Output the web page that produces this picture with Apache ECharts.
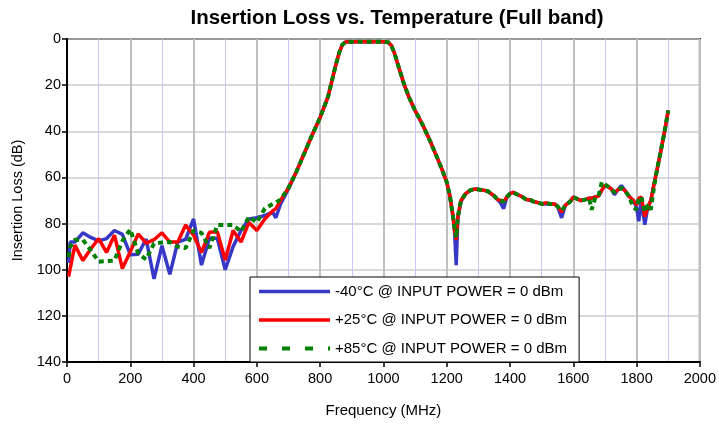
<!DOCTYPE html>
<html>
<head>
<meta charset="utf-8">
<script src="https://cdn.jsdelivr.net/npm/echarts@6/dist/echarts.min.js"></script>
<style>
html,body{margin:0;padding:0;background:#fff;}
#chart{width:719px;height:426px;}
</style>
</head>
<body>
<div id="chart"></div>
<script>
// ---- data ----
var seriesNames = ['-40°C @ INPUT POWER = 0 dBm', '+25°C @ INPUT POWER = 0 dBm', '+85°C @ INPUT POWER = 0 dBm'];

var freqLow = [5,10,25,50,75,100,125,150,175,200,225,250,275,300,325,350,375,400,425,450,475,500,525,550,575,600,625,650,660,675,700];
var blueLow = [97,88,88,84,86,87.5,86.5,83,84.7,93.5,93.3,86.7,104,89.6,102,88,86.8,78,98,86.4,86.4,100,90,83,78,77.5,76.5,75,77.5,71.5,65];
var redLow = [103,103,89.3,96,91,86.5,92.5,85,99.5,92.2,84.5,88.5,87,84,88,88,80.6,85,92.5,83.8,83.5,95.8,83,88,79.5,83,78,74.5,73.5,70,64.5];
var greenLow = [94.5,90,87,87,91.5,96.5,96.3,96,87.5,82.5,93,95.5,88.6,88.2,88,90,90.6,83,84,90.6,80.6,80.6,80.6,83.5,77,79.5,73.5,71.5,71,69.5,64.5];

var freqBand = [725,750,775,800,825,840,850,860,870,880,
  900,950,1000,1015,1025,1035,1050,1065,1080,1100,
  1125,1150,1170,1185,1200,1210,1220,1225,1230,1235,
  1245,1260,1275,1290,1300,1315,1330,1340,1350,1360,
  1370,1380,1390,1400,1410,1425,1440,1450,1465,1475,
  1490,1500,1515,1525,1540,1550,1563,1575,1590,1600,
  1615,1625,1640,1650,1658,1670,1680,1690,1700,1710,
  1720,1730,1740,1752,1765,1775,1790,1800,1807,1815,
  1826,1835,1845,1852,1862,1870,1878,1890,1900];
var redBand = [57.5,49.5,41.5,34,25,16.5,11,6,2.5,1.3,
  1.2,1.2,1.2,1.4,2.8,6.2,13,19.5,25,31,
  37.5,45,51.5,56.5,62,68,77,83,87,77,
  70,67,65.5,65,65.2,65.5,66,67,68,69.5,
  70,70.5,68.5,67,66.5,67.5,68.5,69.5,69.8,70.5,
  71,71.5,71,71.5,71.5,72.5,75,72,70.5,68.5,
  69.5,70,69.5,69,69,68.5,68,65.5,63.5,64,
  65,66.5,65.5,64.5,66,68,70,72,69,68.5,
  77,73,70,65,58.5,53,47.5,39,31];
var blueBand = [57.5,49.5,41.5,34,25,16.5,11,6,2.5,1.3,
  1.2,1.2,1.2,1.4,2.8,6.2,13,19.5,25,31,
  37.5,45,51.5,56.5,62,68,77,84,98,78,
  70.5,67,65.5,65,65.2,65.5,66,67,68,69.5,
  71,73.5,68.5,67,66.5,67.5,68.5,69.5,70,70.5,
  71,71.5,71.5,71.5,71.5,72.5,77.5,72,70.5,68.5,
  69.5,70,69.5,69,69,68.5,68,65.5,63.5,64,
  65,67.5,65.5,63.5,66,68,70,73,79,70,
  80.5,73,70,65,58.5,53,47.5,39,31];
var greenBand = [57.5,49.5,41.5,34,25,16.5,11,6,2.5,1.3,
  1.2,1.2,1.2,1.4,2.8,6.2,13,19.5,25,31,
  37.5,45,51.5,56.5,62,68,77,82,86,77,
  70,67,65.5,65,65.2,65.5,66,67,68,69.5,
  70,70.5,68.5,67,66.5,67.5,68.5,69.5,69.8,70.5,
  71,71.5,71,71.5,71.5,72.5,74.5,72,70.5,68.5,
  69.5,70,69.5,69,74,68.5,68,62,63,64,
  65,66.5,65.5,64.5,66,68,73,74,69,68.5,
  75,72,74,67,58.5,53,47.5,39,31];

var xTicks = {min: 0, max: 2000, interval: 200};
var yTicks = {min: 0, max: 140, interval: 20};

function pairs(fa, va, fb, vb) {
  var out = [];
  for (var i = 0; i < fa.length; i++) out.push([fa[i], va[i]]);
  for (var j = 0; j < fb.length; j++) out.push([fb[j], vb[j]]);
  return out;
}

var FONT = '"Liberation Sans", Arial, sans-serif';
var chart = echarts.init(document.getElementById('chart'), null, {renderer: 'canvas'});
chart.setOption({
  animation: false,
  backgroundColor: '#fff',
  title: {
    text: 'Insertion Loss vs. Temperature (Full band)',
    left: 392, top: 3, textAlign: 'center',
    textStyle: {fontFamily: FONT, fontSize: 20.5, fontWeight: 'bold', color: '#000'}
  },
  grid: {left: 67, right: 17, top: 39, bottom: 64, show: true, borderColor: '#000', borderWidth: 2, backgroundColor: 'transparent'},
  legend: {
    orient: 'vertical', left: 250, top: 277,
    padding: [7, 12, 6, 7],
    itemWidth: 71, itemHeight: 14, itemGap: 13.5,
    backgroundColor: '#fff', borderColor: '#000', borderWidth: 1,
    itemStyle: {opacity: 0},
    textStyle: {fontFamily: FONT, fontSize: 15, color: '#000', lineHeight: 15},
    data: [
      {name: seriesNames[0], lineStyle: {width: 3.5}},
      {name: seriesNames[1], lineStyle: {width: 3.5}},
      {name: seriesNames[2], lineStyle: {width: 4, type: [8, 15]}}
    ]
  },
  xAxis: {
    type: 'value', min: xTicks.min, max: xTicks.max, interval: xTicks.interval,
    name: 'Frequency (MHz)', nameLocation: 'middle', nameGap: 41,
    nameTextStyle: {fontFamily: FONT, fontSize: 15, color: '#000'},
    axisLine: {show: true, onZero: false, lineStyle: {color: '#000', width: 2}},
    axisTick: {show: true, inside: false, length: 5, lineStyle: {color: '#000', width: 1.5}},
    axisLabel: {fontFamily: FONT, fontSize: 14.5, color: '#000', margin: 9, formatter: function (v) { return String(v); }},
    splitLine: {show: true, lineStyle: {color: '#c0c0c0', width: 2}},
    minorTick: {show: true, splitNumber: 2, length: 0},
    minorSplitLine: {show: true, lineStyle: {color: '#c8c8ff', width: 1}}
  },
  yAxis: {
    type: 'value', inverse: true, min: yTicks.min, max: yTicks.max, interval: yTicks.interval,
    name: 'Insertion Loss (dB)', nameLocation: 'middle', nameGap: 42,
    nameTextStyle: {fontFamily: FONT, fontSize: 14.5, color: '#000'},
    axisLine: {show: true, onZero: false, lineStyle: {color: '#000', width: 2}},
    axisTick: {show: true, inside: false, length: 5, lineStyle: {color: '#000', width: 1.5}},
    axisLabel: {fontFamily: FONT, fontSize: 14.5, color: '#000', margin: 6, formatter: function (v) { return String(v); }},
    splitLine: {show: true, lineStyle: {color: '#cccccc', width: 1.5}}
  },
  series: [
    {name: seriesNames[0], type: 'line', symbol: 'none', data: pairs(freqLow, blueLow, freqBand, blueBand),
     lineStyle: {color: '#3838c8', width: 3.5}, itemStyle: {color: '#3838c8'}, z: 2},
    {name: seriesNames[1], type: 'line', symbol: 'none', data: pairs(freqLow, redLow, freqBand, redBand),
     lineStyle: {color: '#ff0000', width: 3.5}, itemStyle: {color: '#ff0000'}, z: 3},
    {name: seriesNames[2], type: 'line', symbol: 'none', data: pairs(freqLow, greenLow, freqBand, greenBand),
     lineStyle: {color: '#008000', width: 4, type: [5, 4]}, itemStyle: {color: '#008000'}, z: 4}
  ]
});
</script>
</body>
</html>
